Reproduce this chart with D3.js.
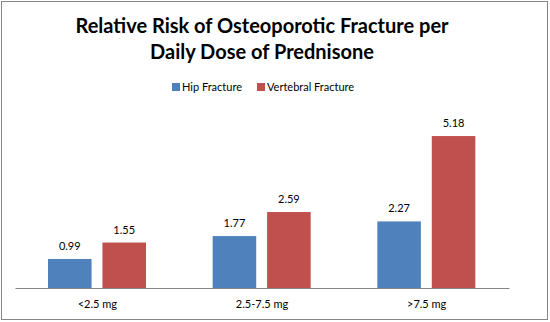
<!DOCTYPE html>
<html>
<head>
<meta charset="utf-8">
<script src="https://cdn.jsdelivr.net/npm/d3@7"></script>
<style>
  html, body { margin: 0; padding: 0; background: #fff; }
  svg { display: block; font-family: Lato, "Open Sans", sans-serif; }
</style>
</head>
<body>
<div id="chart"></div>
<script>
const categories = ["<2.5 mg", "2.5-7.5 mg", ">7.5 mg"];
const seriesNames = ["Hip Fracture", "Vertebral Fracture"];
const hipValues = [0.99, 1.77, 2.27];
const vertebralValues = [1.55, 2.59, 5.18];
const titleLines = ["Relative Risk of Osteoporotic Fracture per", "Daily Dose of Prednisone"];

const Chart = (() => {
    const width = 550;
    const height = 322;
    const margin = { top: 112, right: 41, bottom: 34, left: 15 };
    const colors = ["#4F81BD", "#C0504D"];
    const svg = d3.select("#chart")
        .append("svg")
        .attr("width", width)
        .attr("height", height);

    function render() {
        const data = categories.map((c, i) => ({
            name: c,
            values: [hipValues[i], vertebralValues[i]]
        }));

        svg.append("rect")
            .attr("x", 1.5).attr("y", 1.5)
            .attr("width", width - 4).attr("height", height - 4)
            .attr("fill", "#fff")
            .attr("stroke", "#868686");

        const x0 = d3.scaleBand()
            .domain(categories)
            .range([margin.left, width - margin.right]);
        const x1 = d3.scaleBand()
            .domain([0, 1])
            .range([33, 131])
            .paddingInner(0.2);
        const y = d3.scaleLinear()
            .domain([0, 6])
            .range([height - margin.bottom, margin.top]);

        // title
        svg.append("text")
            .attr("text-anchor", "middle")
            .attr("font-size", 20)
            .attr("font-weight", "bold")
            .attr("fill", "#000")
          .selectAll("tspan")
          .data(titleLines)
          .join("tspan")
            .attr("x", 262)
            .attr("y", (d, i) => 33 + i * 26)
            .text(d => d);

        // legend
        const legend = svg.append("g")
            .attr("font-size", 11)
            .attr("fill", "#000");
        const legendX = [172, 257];
        seriesNames.forEach((s, i) => {
            legend.append("rect")
                .attr("x", legendX[i]).attr("y", 83)
                .attr("width", 8).attr("height", 8)
                .attr("fill", colors[i]);
            legend.append("text")
                .attr("x", legendX[i] + 10).attr("y", 91)
                .text(s);
        });

        const groups = svg.append("g")
          .selectAll("g")
          .data(data)
          .join("g")
            .attr("transform", d => `translate(${x0(d.name)},0)`);

        groups.selectAll("rect")
          .data(d => d.values)
          .join("rect")
            .attr("x", (d, i) => x1(i))
            .attr("y", d => y(d))
            .attr("width", x1.bandwidth())
            .attr("height", d => y(0) - y(d))
            .attr("fill", (d, i) => colors[i]);

        groups.selectAll("text")
          .data(d => d.values)
          .join("text")
            .attr("x", (d, i) => x1(i) + x1.bandwidth() / 2)
            .attr("y", d => y(d) - 9)
            .attr("text-anchor", "middle")
            .attr("font-size", 11)
            .attr("fill", "#000")
            .text(d => d.toFixed(2));

        const xAxis = svg.append("g")
            .attr("transform", `translate(0,${y(0)})`)
            .call(d3.axisBottom(x0).tickSize(0).tickPadding(12));
        xAxis.select(".domain").attr("stroke", "#868686");
        xAxis.selectAll("text")
            .attr("font-size", 11)
            .attr("font-family", "Lato, 'Open Sans', sans-serif")
            .attr("fill", "#000");
    }

    return { render };
})();

Chart.render();
</script>
</body>
</html>
